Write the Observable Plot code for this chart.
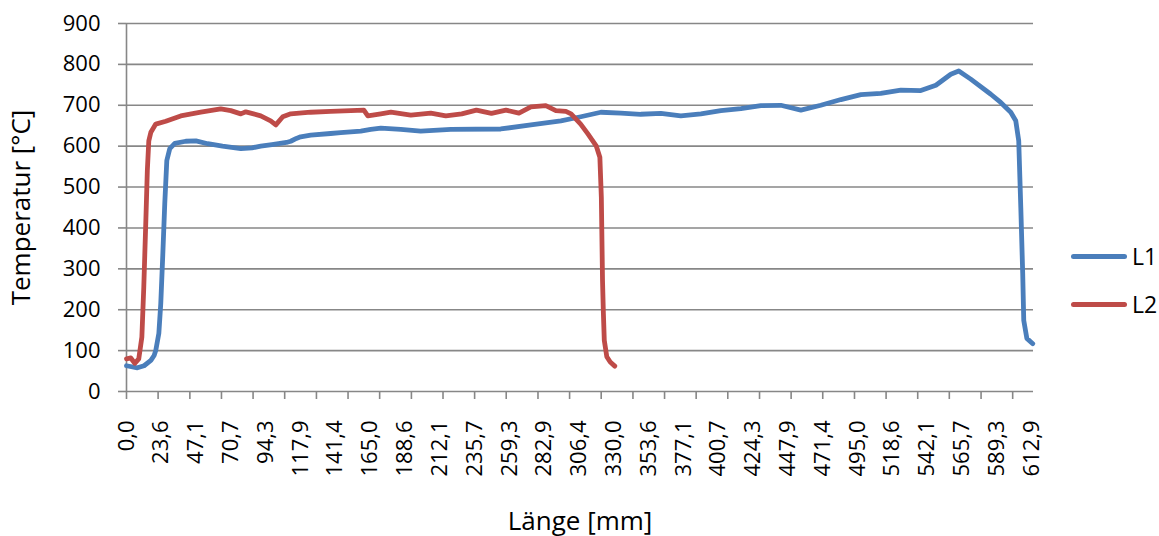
<!DOCTYPE html>
<html><head><meta charset="utf-8">
<script src="https://cdn.jsdelivr.net/npm/d3@7"></script>
<script src="https://cdn.jsdelivr.net/npm/@observablehq/plot@0.6"></script>
<style>
body{margin:0;background:#fff;font-family:"Open Sans",sans-serif;}
#wrap{position:relative;width:1159px;height:536px;}
#legend{position:absolute;left:1071px;top:232px;font-size:23px;color:#000;}
.item{display:flex;align-items:center;height:48px;}
.sw{width:56px;height:5px;border-radius:3px;margin-right:5px;}
</style></head><body><div id="wrap"><div id="legend"></div></div>
<script>
// Series L1
const l1Length = [0, 7.4, 11.9, 16.5, 18.7, 19.8, 21.9, 23.2, 24.6, 25.9, 27.3, 29.3, 32.7, 40.1, 47, 55.0, 65, 77.4, 85, 90.9, 98.5, 108.3, 111.2, 115, 117.9, 124.7, 138.2, 145, 158.6, 165.4, 172.2, 185.7, 199.2, 219.6, 253.4, 273.8, 294.1, 307.6, 321.2, 334.7, 348.2, 361.8, 375.3, 388.9, 402.4, 416.0, 429.5, 443.0, 456.6, 470.1, 483.7, 497.2, 510.7, 524.3, 537.8, 548.0, 558.1, 563.5, 571.6, 585.2, 591.9, 598.7, 602.1, 604.1, 605.5, 606.8, 607.5, 609.6, 613.6];
const l1Temp = [63, 58, 63, 76, 88, 100, 142, 215, 337, 459, 565, 594, 607, 612, 613, 606, 600, 594, 596, 600, 604, 609, 612, 619, 623, 627, 631, 633, 637, 641, 644, 641, 637, 641, 642, 652, 662, 672, 683, 681, 678, 680, 674, 679, 687, 692, 699, 700, 688, 700, 714, 726, 729, 737, 736, 749, 776, 784, 764, 727, 707, 683, 662, 613, 450, 288, 174, 130, 117];
// Series L2
const l2Length = [0, 2.9, 5.6, 8.3, 10.4, 11.7, 13.1, 14.1, 15.1, 16.5, 19.8, 26.6, 36.7, 50.3, 63.8, 70.6, 77.4, 80.8, 90.9, 97.6, 101.1, 105.8, 111.2, 124.7, 138.2, 151.9, 160.7, 163.4, 172.2, 179.0, 192.5, 206.0, 216.2, 227.0, 236.9, 247.1, 256.9, 265.7, 273.8, 283.9, 290.7, 297.5, 301, 307.5, 312.4, 318, 320.5, 321.5, 322.3, 322.9, 323.5, 325.2, 327.5, 330.6];
const l2Temp = [80, 82, 69, 80, 133, 255, 418, 540, 613, 634, 654, 661, 674, 683, 691, 687, 679, 684, 674, 662, 652, 672, 679, 683, 685, 687, 688, 674, 679, 683, 676, 681, 674, 679, 688, 680, 688, 681, 696, 699, 687, 685, 679, 654, 630, 601, 573, 475, 271, 190, 125, 85, 72, 62];
// Axis ticks
const yTicks = [0, 100, 200, 300, 400, 500, 600, 700, 800, 900];
const xTickLabels = [0.0, 23.6, 47.1, 70.7, 94.3, 117.9, 141.4, 165.0, 188.6, 212.1, 235.7, 259.3, 282.9, 306.4, 330.0, 353.6, 377.1, 400.7, 424.3, 447.9, 471.4, 495.0, 518.6, 542.1, 565.7, 589.3, 612.9];
const xTickMarks = [0, 21.4, 42.9, 64.3, 85.7, 107.1, 128.6, 150, 171.4, 192.9, 214.3, 235.7, 257.1, 278.6, 300, 321.4, 342.9, 364.3, 385.7, 407.1, 428.6, 450, 471.4, 492.9, 514.3, 535.7, 557.1, 578.6, 600];
const seriesNames = ["L1", "L2"];
const seriesColors = ["#4a7ebb", "#be4b48"];

const rows = [];
l1Length.forEach((x, i) => rows.push({s: "L1", x, y: l1Temp[i]}));
l2Length.forEach((x, i) => rows.push({s: "L2", x, y: l2Temp[i]}));

const grey = "#878787";
const chart = Plot.plot({
  width: 1159, height: 536,
  marginLeft: 126, marginRight: 126, marginTop: 23, marginBottom: 145,
  style: {fontFamily: "Open Sans, sans-serif", fontSize: "22px", color: "#000", background: "#fff"},
  x: {domain: [0, 614.1]},
  y: {domain: [0, 900]},
  color: {domain: seriesNames, range: seriesColors},
  marks: [
    Plot.gridY(yTicks, {stroke: grey, strokeOpacity: 1, strokeWidth: 1.6}),
    Plot.ruleX([0], {stroke: grey, strokeWidth: 1.6}),
    Plot.axisY(yTicks, {tickSize: 8, tickPadding: 18, stroke: grey, strokeWidth: 1.6, label: null, fontSize: 22}),
    Plot.axisY([], {label: "Temperatur [°C]", labelAnchor: "center", labelArrow: "none", labelOffset: 115, fontSize: 26, tickSize: 0}),
    Plot.axisX(xTickMarks, {tickSize: 8, text: null, label: null, stroke: grey, strokeWidth: 1.6}),
    Plot.axisX(xTickLabels, {tickSize: 0, tickPadding: 29, tickRotate: -90, fontSize: 22, label: null,
      tickFormat: d => d.toFixed(1).replace(".", ",")}),
    Plot.axisX([], {label: "Länge [mm]", labelAnchor: "center", labelArrow: "none", labelOffset: 138, fontSize: 26, tickSize: 0}),
    Plot.line(rows, {x: "x", y: "y", z: "s", stroke: "s", strokeWidth: 4.8, strokeLinejoin: "round", strokeLinecap: "round"})
  ]
});
document.getElementById("wrap").prepend(chart);

const legend = document.getElementById("legend");
seriesNames.forEach((n, i) => {
  const it = document.createElement("div");
  it.className = "item";
  it.innerHTML = `<div class="sw" style="background:${seriesColors[i]}"></div><span>${n}</span>`;
  legend.appendChild(it);
});
</script>
</body></html>
